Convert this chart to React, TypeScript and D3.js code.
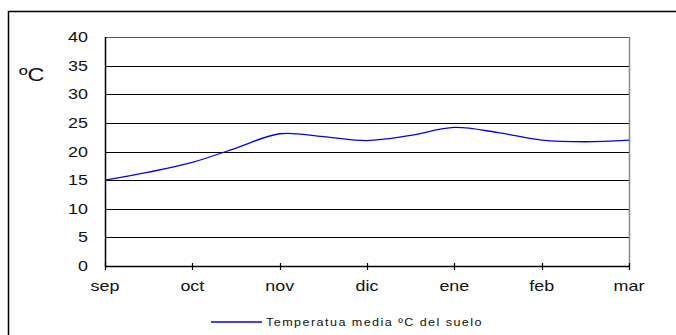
import React from "react";
import * as d3 from "d3";

// Soil temperature, semi-monthly readings from September to March
const months = ["sep", "oct", "nov", "dic", "ene", "feb", "mar"];
const halfMonthSteps = [0, 0.5, 1, 1.5, 2, 2.5, 3, 3.5, 4, 4.5, 5, 5.5, 6];
const soilTemp = [15, 16.4, 18.1, 20.6, 23.1, 22.6, 21.9, 22.8, 24.2, 23.3, 22.0, 21.7, 22.0];
const yTicks = [0, 5, 10, 15, 20, 25, 30, 35, 40];
const seriesName = "Temperatua media ºC del suelo";
const unitLabel = "ºC";

const W = 676;
const H = 335;
const plot = { left: 105, right: 629, top: 37, bottom: 266 };
const stretch = 1.28; // wide glyphs of the axis labels

export default function App() {
  const x = d3.scaleLinear().domain([0, months.length - 1]).range([plot.left, plot.right]);
  const y = d3.scaleLinear().domain([0, 40]).range([plot.bottom, plot.top]);

  const line = d3
    .line<number>()
    .x((_, i) => x(halfMonthSteps[i]))
    .y((d) => y(d))
    .curve(d3.curveCatmullRom.alpha(0.5));

  const font = "'Liberation Sans', Arial, sans-serif";
  const px = (v: number) => Math.round(v) + 0.5;

  return (
    <svg
      width={W}
      height={H}
      style={{ position: "absolute", left: 0, top: 0, background: "#fff" }}
      fontFamily={font}
    >
      {/* outer chart frame */}
      <rect x={8.5} y={11.5} width={800} height={400} fill="none" stroke="#000" strokeWidth={1.5} />

      {/* horizontal grid */}
      {yTicks.map((t) => (
        <line
          key={t}
          x1={plot.left}
          x2={plot.right}
          y1={px(y(t))}
          y2={px(y(t))}
          stroke={t === 40 ? "#555" : "#000"}
          strokeWidth={1}
        />
      ))}

      {/* right border of plot area */}
      <line x1={px(plot.right)} x2={px(plot.right)} y1={plot.top} y2={plot.bottom} stroke="#888" strokeWidth={1.5} />

      {/* y axis */}
      <line x1={px(plot.left)} x2={px(plot.left)} y1={plot.top} y2={plot.bottom + 1} stroke="#000" strokeWidth={1.5} />
      {/* x axis */}
      <line x1={plot.left} x2={plot.right + 1} y1={px(plot.bottom)} y2={px(plot.bottom)} stroke="#000" strokeWidth={1.5} />

      {/* x ticks */}
      {months.map((m, i) => (
        <line key={m} x1={px(x(i))} x2={px(x(i))} y1={plot.bottom - 3} y2={plot.bottom + 4} stroke="#000" strokeWidth={1.2} />
      ))}

      {/* y tick labels */}
      {yTicks.map((t) => (
        <text
          key={t}
          transform={`translate(88,${y(t) + 5}) scale(${stretch},1)`}
          textAnchor="end"
          fontSize={14}
          fill="#111"
        >
          {t}
        </text>
      ))}

      {/* x tick labels */}
      {months.map((m, i) => (
        <text
          key={m}
          transform={`translate(${x(i)},291) scale(${stretch},1)`}
          textAnchor="middle"
          fontSize={14}
          fill="#111"
        >
          {m}
        </text>
      ))}

      {/* unit label */}
      <text transform={`translate(19,81) scale(1.3,1)`} fontSize={18} fill="#111">
        {unitLabel}
      </text>

      {/* series */}
      <path d={line(soilTemp) ?? ""} fill="none" stroke="#0000ff" strokeWidth={1.3} />

      {/* legend */}
      <line x1={211} x2={262} y1={322} y2={322} stroke="#0000ff" strokeWidth={1.3} />
      <text transform="translate(266,326) scale(1.2,1)" fontSize={10.5} letterSpacing={1.2} fill="#111">
        {seriesName}
      </text>
    </svg>
  );
}
